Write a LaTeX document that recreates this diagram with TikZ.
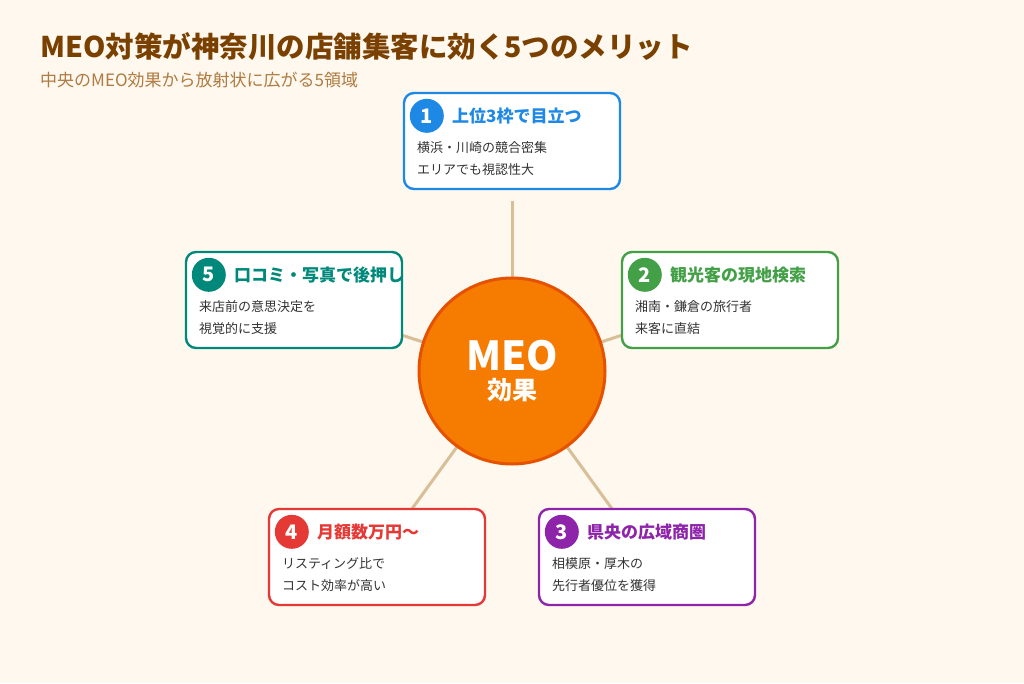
\documentclass[tikz,border=0pt]{standalone}
\usepackage{fontspec}
\setmainfont{Noto Sans CJK JP}
\usepackage{tikz}
\usetikzlibrary{positioning, calc, backgrounds}
\definecolor{paperCream}{HTML}{FEF8EE}
\definecolor{titleBrown}{HTML}{7A4000}
\definecolor{subBrown}{HTML}{B07A40}
\definecolor{textDark}{HTML}{333333}
\definecolor{spokeTan}{HTML}{D8BF98}
\definecolor{hubOrange}{HTML}{F57C00}
\definecolor{hubEdge}{HTML}{E65100}
\definecolor{meritBlue}{HTML}{1E88E5}
\definecolor{meritGreen}{HTML}{43A047}
\definecolor{meritPurple}{HTML}{8E24AA}
\definecolor{meritRed}{HTML}{E53935}
\definecolor{meritTeal}{HTML}{00897B}

\begin{document}
\begin{tikzpicture}[x=1pt, y=-1pt,
    box/.style={rectangle, rounded corners=10pt, draw=#1, line width=2.4pt,
                fill=white, minimum width=216pt, minimum height=96pt},
    badge/.style={circle, fill=#1, minimum size=34pt, inner sep=0pt,
                  text=white, font=\fontsize{20}{20}\selectfont\bfseries},
    head/.style={inner sep=0pt, text=#1, font=\fontsize{17}{18}\selectfont\bfseries},
    body/.style={inner sep=0pt, align=left, text=textDark,
                 font=\fontsize{13}{22}\selectfont},
    hub/.style={circle, fill=hubOrange, draw=hubEdge, line width=3pt,
                minimum size=186pt, inner sep=0pt, text=white, align=center},
    spoke/.style={draw=spokeTan, line width=3pt},
  ]
    \useasboundingbox (0,0) rectangle (1024,683);

    \node[anchor=base west, inner sep=0pt, text=titleBrown,
          font=\fontsize{28.5}{30}\selectfont\bfseries] (title) at (40,57)
      {MEO対策が神奈川の店舗集客に効く5つのメリット};
    \node[anchor=base west, inner sep=0pt, text=subBrown,
          font=\fontsize{17}{18}\selectfont] (subtitle) at (40,86)
      {中央のMEO効果から放射状に広がる5領域};

    \node[hub] (hub) at (512,371)
      {{\fontsize{40}{40}\selectfont\bfseries MEO}\\[6pt]
       {\fontsize{25}{25}\selectfont\bfseries 効果}};

    \node[box=meritBlue] (b1) at (512,141) {};
    \node[badge=meritBlue] (n1) at ($(b1.north west)+(24,24)$) {1};
    \node[head=meritBlue, right=8pt of n1] (t1) {上位3枠で目立つ};
    \node[body, anchor=north west] (d1) at ($(b1.north west)+(14,50)$)
      {横浜・川崎の競合密集\\エリアでも視認性大};

    \node[box=meritGreen] (b2) at (730,300) {};
    \node[badge=meritGreen] (n2) at ($(b2.north west)+(24,24)$) {2};
    \node[head=meritGreen, right=8pt of n2] (t2) {観光客の現地検索};
    \node[body, anchor=north west] (d2) at ($(b2.north west)+(14,50)$)
      {湘南・鎌倉の旅行者\\来客に直結};

    \node[box=meritPurple] (b3) at (647,557) {};
    \node[badge=meritPurple] (n3) at ($(b3.north west)+(24,24)$) {3};
    \node[head=meritPurple, right=8pt of n3] (t3) {県央の広域商圏};
    \node[body, anchor=north west] (d3) at ($(b3.north west)+(14,50)$)
      {相模原・厚木の\\先行者優位を獲得};

    \node[box=meritRed] (b4) at (377,557) {};
    \node[badge=meritRed] (n4) at ($(b4.north west)+(24,24)$) {4};
    \node[head=meritRed, right=8pt of n4] (t4) {月額数万円〜};
    \node[body, anchor=north west] (d4) at ($(b4.north west)+(14,50)$)
      {リスティング比で\\コスト効率が高い};

    \node[box=meritTeal] (b5) at (294,300) {};
    \node[badge=meritTeal] (n5) at ($(b5.north west)+(24,24)$) {5};
    \node[head=meritTeal, right=8pt of n5] (t5) {口コミ・写真で後押し};
    \node[body, anchor=north west] (d5) at ($(b5.north west)+(14,50)$)
      {来店前の意思決定を\\視覚的に支援};

    \begin{scope}[on background layer]
      \fill[paperCream] (0,0) rectangle (1024,683);
      \foreach \b in {b1,b2,b3,b4,b5}
        \draw[spoke] (hub.center) -- ($(hub.center)!170pt!(\b.center)$);
    \end{scope}
  \end{tikzpicture}
\end{document}
